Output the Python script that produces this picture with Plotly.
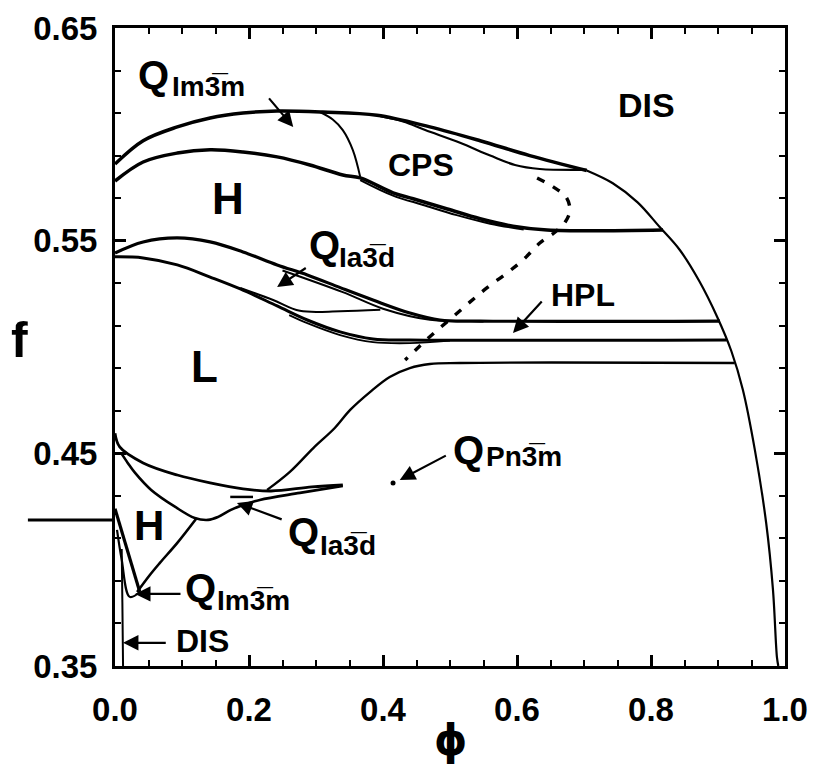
import plotly.graph_objects as go

# ---------------- data (phi, f) ----------------
outer_phi = [0.0, 0.042, 0.093, 0.142, 0.191, 0.242, 0.310, 0.391, 0.470, 0.545, 0.619, 0.704]
outer_f = [0.586, 0.597, 0.6035, 0.6077, 0.610, 0.611, 0.6105, 0.609, 0.6035, 0.597, 0.590, 0.583]

dis_phi = [0.704, 0.743, 0.780, 0.813, 0.843, 0.872, 0.899, 0.920, 0.937, 0.955, 0.972, 0.982, 0.988, 0.990]
dis_f = [0.583, 0.577, 0.568, 0.5564, 0.5456, 0.531, 0.514, 0.498, 0.480, 0.4516, 0.417, 0.386, 0.354, 0.350]

cps_inner_phi = [0.396, 0.430, 0.463, 0.515, 0.560, 0.597, 0.634, 0.704]
cps_inner_f = [0.6085, 0.6060, 0.602, 0.596, 0.590, 0.5856, 0.5837, 0.5833]

im3m_cps_phi = [0.306, 0.325, 0.340, 0.355, 0.366]
im3m_cps_f = [0.6105, 0.607, 0.602, 0.5926, 0.580]

h_top_phi = [0.0, 0.042, 0.093, 0.142, 0.191, 0.242, 0.291, 0.340, 0.366, 0.415, 0.445, 0.496, 0.545, 0.594, 0.645, 0.818]
h_top_f = [0.578, 0.587, 0.5912, 0.5927, 0.5917, 0.5894, 0.5856, 0.5809, 0.5795, 0.5725, 0.5697, 0.5649, 0.5603, 0.5568, 0.5550, 0.5550]

h_top2_phi = [0.366, 0.415, 0.460, 0.510, 0.560, 0.610]
h_top2_f = [0.5785, 0.5712, 0.5668, 0.5620, 0.5580, 0.5552]

ia_top_phi = [0.0, 0.042, 0.093, 0.142, 0.191, 0.242, 0.287, 0.337, 0.385, 0.440, 0.485, 0.545, 0.903]
ia_top_f = [0.5442, 0.5494, 0.5513, 0.5494, 0.5447, 0.5386, 0.5339, 0.5278, 0.5221, 0.5160, 0.5127, 0.5122, 0.5122]

ia_top2_phi = [0.25, 0.34, 0.40, 0.47, 0.55]
ia_top2_f = [0.5360, 0.5258, 0.5180, 0.5128, 0.5120]

ia_low_phi = [0.0, 0.042, 0.093, 0.142, 0.187, 0.242, 0.287, 0.336, 0.385, 0.440, 0.913]
ia_low_f = [0.5424, 0.5419, 0.5386, 0.5329, 0.5273, 0.5193, 0.5127, 0.5071, 0.5038, 0.5033, 0.5033]

ia_low2_phi = [0.26, 0.287, 0.336, 0.385, 0.44, 0.50]
ia_low2_f = [0.5150, 0.5112, 0.5056, 0.5023, 0.5018, 0.5030]

branch_phi = [0.187, 0.236, 0.276, 0.336, 0.396]
branch_f = [0.5278, 0.5221, 0.5170, 0.5168, 0.5175]

rise_phi = [0.227, 0.261, 0.296, 0.328, 0.351, 0.381, 0.410, 0.440, 0.470, 0.515, 0.925]
rise_f = [0.4328, 0.4413, 0.4525, 0.4619, 0.4704, 0.4789, 0.4859, 0.4901, 0.4920, 0.4925, 0.4925]

pn_top_phi = [0.0, 0.007, 0.042, 0.093, 0.142, 0.191, 0.233, 0.294, 0.340]
pn_top_f = [0.4595, 0.4530, 0.4455, 0.4398, 0.4361, 0.4333, 0.4323, 0.4342, 0.4351]

h_low_phi = [0.009, 0.019, 0.030, 0.054, 0.090, 0.119, 0.139, 0.154, 0.173, 0.191, 0.216, 0.276, 0.340]
h_low_f = [0.4502, 0.4455, 0.4408, 0.4328, 0.4248, 0.4196, 0.4187, 0.4201, 0.4234, 0.4257, 0.4281, 0.4314, 0.4347]

ia_lens_phi = [0.172, 0.206]
ia_lens_f = [0.4295, 0.4295]

im_h_phi = [0.033, 0.052, 0.067, 0.093, 0.122]
im_h_f = [0.3848, 0.3928, 0.3985, 0.4079, 0.4196]

hl1_phi = [0.0, 0.037]
hl1_f = [0.4240, 0.3848]

hl2_phi = [0.003, 0.010, 0.022, 0.037]
hl2_f = [0.4140, 0.400, 0.3825, 0.3848]

dis_strip_phi = [0.010, 0.011, 0.012]
dis_strip_f = [0.405, 0.38, 0.35]

dash_phi = [0.630, 0.654, 0.673, 0.679, 0.672, 0.657, 0.634, 0.609, 0.585, 0.555, 0.530, 0.504, 0.478, 0.455, 0.433]
dash_f = [0.5795, 0.5753, 0.5706, 0.5644, 0.5588, 0.5541, 0.5489, 0.5409, 0.5348, 0.5278, 0.5212, 0.5141, 0.5071, 0.5005, 0.4939]

pn_dot_phi = [0.415]
pn_dot_f = [0.436]

x_ticks = [0.0, 0.2, 0.4, 0.6, 0.8, 1.0]
y_ticks = [0.35, 0.45, 0.55, 0.65]

# ---------------- figure ----------------
fig = go.Figure()

def add_line(x, y, w, dash=None, shape="spline"):
    fig.add_trace(go.Scatter(x=x, y=y, mode="lines",
                             line=dict(color="black", width=w, shape=shape,
                                       dash=dash if dash else "solid"),
                             hoverinfo="skip", showlegend=False))

add_line(outer_phi, outer_f, 3.5)
add_line(dis_phi, dis_f, 2.2)
add_line(cps_inner_phi, cps_inner_f, 2.2)
add_line(im3m_cps_phi, im3m_cps_f, 2.0)
add_line(h_top_phi, h_top_f, 3.5)
add_line(h_top2_phi, h_top2_f, 2.0)
add_line(ia_top_phi, ia_top_f, 3.2)
add_line(ia_top2_phi, ia_top2_f, 2.0)
add_line(ia_low_phi, ia_low_f, 3.0)
add_line(ia_low2_phi, ia_low2_f, 1.8)
add_line(branch_phi, branch_f, 2.0)
add_line(rise_phi, rise_f, 2.4)
add_line(pn_top_phi, pn_top_f, 2.8)
add_line(h_low_phi, h_low_f, 2.6)
add_line(ia_lens_phi, ia_lens_f, 2.5, shape="linear")
add_line(im_h_phi, im_h_f, 2.6)
add_line(hl1_phi, hl1_f, 3.2, shape="linear")
add_line(hl2_phi, hl2_f, 2.2)
add_line(dis_strip_phi, dis_strip_f, 2.0)
add_line(dash_phi, dash_f, 3.4, dash="8px,10px")

fig.add_trace(go.Scatter(x=pn_dot_phi, y=pn_dot_f, mode="markers",
                         marker=dict(color="black", size=5),
                         hoverinfo="skip", showlegend=False))

FONT = "Liberation Sans, Arial, Helvetica, sans-serif"

def label(x, y, text, size, xanchor="center"):
    fig.add_annotation(x=x, y=y, xref="x", yref="y", text=text, showarrow=False,
                       xanchor=xanchor, yanchor="middle",
                       font=dict(family=FONT, size=size, color="black", weight="bold"))

def q_label(x, y, sub_x, sub_y, sub):
    label(x, y, "Q", 40)
    label(sub_x, sub_y, sub, 28, xanchor="left")

def arrow(x, y, ax, ay):
    fig.add_annotation(x=x, y=y, ax=ax, ay=ay, xref="x", yref="y", axref="x", ayref="y",
                       text="", showarrow=True, arrowhead=2, arrowsize=1.4,
                       arrowwidth=2.2, arrowcolor="black")

OV = "3\u0305"
q_label(0.058, 0.6279, 0.082, 0.6223, "Im" + OV + "m")
arrow(0.266, 0.6035, 0.228, 0.6176)
label(0.793, 0.6138, "DIS", 34)
label(0.457, 0.5856, "CPS", 32)
label(0.169, 0.570, "H", 44)
q_label(0.312, 0.548, 0.332, 0.5419, "Ia" + OV + "d")
arrow(0.242, 0.5282, 0.287, 0.5376)
label(0.134, 0.4906, "L", 44)
label(0.699, 0.5244, "HPL", 32)
arrow(0.594, 0.5066, 0.639, 0.5221)
q_label(0.527, 0.4516, 0.550, 0.4483, "Pn" + OV + "m")
arrow(0.425, 0.4375, 0.496, 0.4493)
label(0.051, 0.4159, "H", 42)
q_label(0.281, 0.4130, 0.303, 0.4066, "Ia" + OV + "d")
arrow(0.182, 0.4267, 0.251, 0.4187)
q_label(0.128, 0.3867, 0.149, 0.381, "Im" + OV + "m")
arrow(0.030, 0.3839, 0.100, 0.3839)
label(0.131, 0.3618, "DIS", 32)
arrow(0.012, 0.3609, 0.078, 0.3609)

# axis titles
fig.add_annotation(x=-0.143, y=0.511, xref="paper", yref="paper", text="f", showarrow=False,
                   xanchor="center", yanchor="middle",
                   font=dict(family=FONT, size=50, color="black", weight="bold"))
fig.add_annotation(x=0.5, y=-0.117, xref="paper", yref="paper", text="\u03d5", showarrow=False,
                   xanchor="center", yanchor="middle",
                   font=dict(family="DejaVu Sans, " + FONT, size=42, color="black", weight="bold"))

# scan mark left of axis at f ~ 0.42
fig.add_shape(type="line", xref="paper", yref="y", x0=-0.13, x1=0.0, y0=0.4186, y1=0.4186,
              line=dict(color="black", width=3))

axis_common = dict(showline=True, linewidth=3, linecolor="black", mirror="ticks",
                   ticks="inside", ticklen=11, tickwidth=2.5, tickcolor="black",
                   showgrid=False, zeroline=False, automargin=False,
                   tickfont=dict(family=FONT, size=33, color="black", weight="bold"))

fig.update_xaxes(range=[0, 1], tickvals=x_ticks, tickformat=".1f", ticklabelstandoff=12,
                 minor=dict(dtick=0.05, tick0=0, ticks="inside", ticklen=6, tickwidth=2,
                            tickcolor="black", showgrid=False),
                 **axis_common)
fig.update_yaxes(range=[0.35, 0.65], tickvals=y_ticks, tickformat=".2f", ticklabelstandoff=8,
                 minor=dict(dtick=0.02, tick0=0.35, ticks="inside", ticklen=6, tickwidth=2,
                            tickcolor="black", showgrid=False),
                 **axis_common)

# page body has an 8px margin: size the figure so the plot box lands where the reference has it
fig.update_layout(width=800, height=761,
                  margin=dict(l=107, r=23, t=20, b=103),
                  plot_bgcolor="white", paper_bgcolor="white",
                  showlegend=False)

fig.write_html("out.html")
